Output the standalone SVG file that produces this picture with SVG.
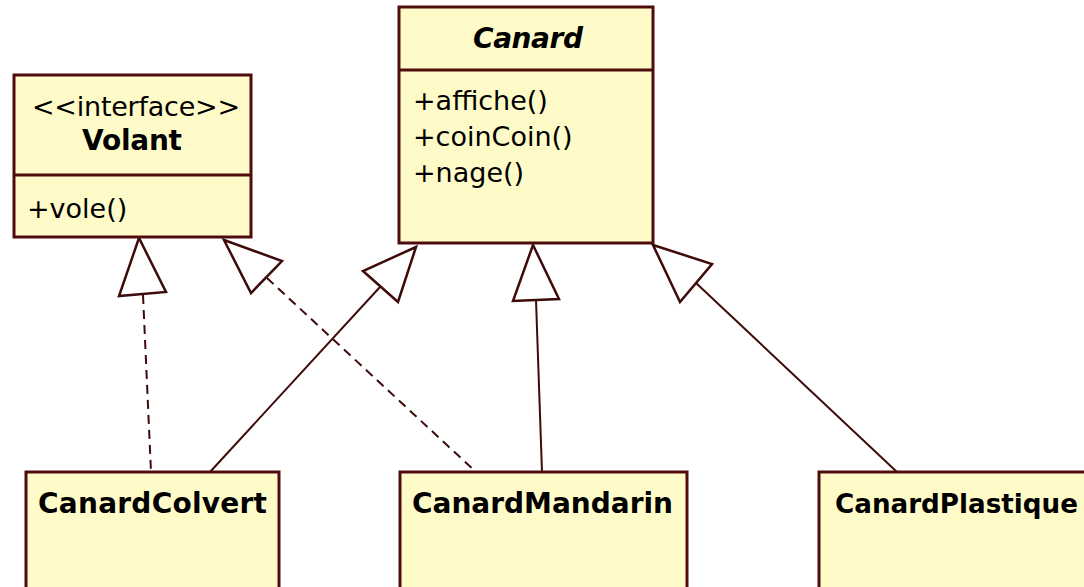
<svg xmlns="http://www.w3.org/2000/svg" width="1084" height="587" viewBox="0 0 1084 587">
  <style>
    .box { fill: #fffbc8; stroke: #4e0c0c; stroke-width: 3; }
    .div { stroke: #4e0c0c; stroke-width: 3; }
    .t { font-family: "DejaVu Sans", Verdana, sans-serif; font-size: 27px; fill: #000; }
    .b { font-family: "DejaVu Sans", Verdana, sans-serif; font-size: 28px; font-weight: bold; fill: #000; }
    .bi { font-style: italic; }
    .line { stroke: #3e0a0a; stroke-width: 2; fill: none; }
    .dash { stroke-dasharray: 9 6; }
    .head { fill: #ffffff; stroke: #3e0a0a; stroke-width: 2.5; stroke-linejoin: miter; }
  </style>
  <rect width="1084" height="587" fill="#ffffff"/>

  <g id="connectors">
    <!-- CanardColvert realizes Volant -->
    <line class="line dash" x1="143" y1="295" x2="151" y2="472"/>
    <polygon class="head" points="139,238 119,296 166,292"/>
    <!-- CanardMandarin realizes Volant -->
    <line class="line dash" x1="267" y1="278" x2="476" y2="472"/>
    <polygon class="head" points="224,240 282,261 251,293"/>
    <!-- CanardColvert extends Canard -->
    <line class="line" x1="380" y1="287" x2="210" y2="472"/>
    <polygon class="head" points="416,247 363,271 398,302"/>
    <!-- CanardMandarin extends Canard -->
    <line class="line" x1="536" y1="300" x2="542" y2="472"/>
    <polygon class="head" points="533,245 513,301 559,299"/>
    <!-- CanardPlastique extends Canard -->
    <line class="line" x1="696" y1="283" x2="897" y2="472"/>
    <polygon class="head" points="653,245 712,264 680,302"/>
  </g>

  <g id="Volant">
    <rect class="box" x="14" y="75" width="237" height="162"/>
    <line class="div" x1="14" y1="175" x2="251" y2="175"/>
    <text class="t" x="32" y="116" textLength="208">&lt;&lt;interface&gt;&gt;</text>
    <text class="b" x="82" y="150" textLength="100">Volant</text>
    <text class="t" x="27" y="218">+vole()</text>
  </g>

  <g id="Canard">
    <rect class="box" x="399" y="7" width="254" height="236"/>
    <line class="div" x1="399" y1="70" x2="653" y2="70"/>
    <text class="b bi" x="473" y="48" textLength="110">Canard</text>
    <text class="t" x="413" y="110">+affiche()</text>
    <text class="t" x="413" y="146">+coinCoin()</text>
    <text class="t" x="413" y="182">+nage()</text>
  </g>

  <g id="CanardColvert">
    <rect class="box" x="26" y="472" width="253" height="130"/>
    <text class="b" x="38" y="513" textLength="229">CanardColvert</text>
  </g>

  <g id="CanardMandarin">
    <rect class="box" x="400" y="472" width="287" height="130"/>
    <text class="b" x="412" y="513" textLength="261">CanardMandarin</text>
  </g>

  <g id="CanardPlastique">
    <rect class="box" x="819" y="472" width="290" height="130"/>
    <text class="b" x="835" y="513" style="font-size:26.2px">CanardPlastique</text>
  </g>
</svg>
